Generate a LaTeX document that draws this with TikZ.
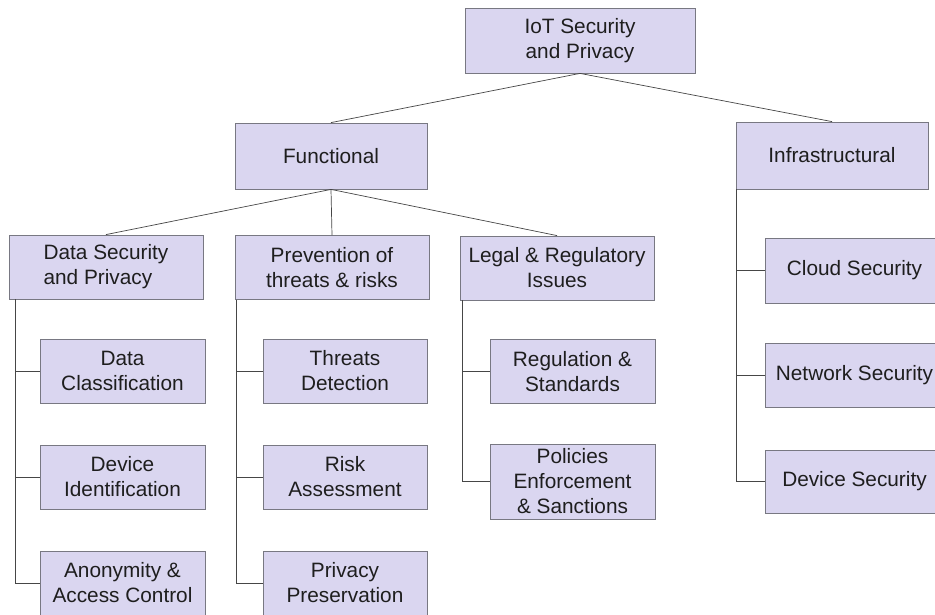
\documentclass[tikz,border=0pt]{standalone}
\usepackage{fontspec}
\setmainfont{Liberation Sans}
\usetikzlibrary{calc}
\definecolor{boxfill}{RGB}{218,214,240}
\definecolor{boxline}{RGB}{120,120,130}
\definecolor{txt}{RGB}{30,30,30}
\definecolor{conn}{RGB}{70,70,70}
\tikzset{
  box/.style={rectangle, fill=boxfill, draw=boxline, line width=0.8pt, inner sep=0pt,
    align=center, text=txt, font=\fontsize{20.8}{25}\selectfont},
  l1/.style={box, minimum width=192pt, minimum height=66pt},
  l2/.style={box, minimum width=194pt, minimum height=64pt},
  l3/.style={box, minimum width=165pt, minimum height=64pt},
  l4/.style={box, minimum width=179pt, minimum height=65pt},
  link/.style={draw=conn, line width=0.7pt}
}
\begin{document}
\begin{tikzpicture}[x=1pt,y=-1pt]
\useasboundingbox (0,0) rectangle (935,615);
\clip (0,0) rectangle (935,615);
\fill[white] (0,0) rectangle (935,615);

\node[box, minimum width=230pt, minimum height=65pt] (root) at (580,40.5) {IoT Security\\and Privacy};
\node[l1] (func) at (331,156) {Functional};
\node[l1, minimum height=67pt] (infra) at (832,155.5) {Infrastructural};

\node[l2, align=left] (dsp) at (106,267) {Data Security\\and Privacy};
\node[l2] (prev) at (332,267.5) {Prevention of\\threats \& risks};
\node[l2] (legal) at (557,268) {Legal \& Regulatory\\Issues};

\node[l3] (dc) at (122.5,371) {Data\\Classification};
\node[l3] (di) at (122.5,477) {Device\\Identification};
\node[l3] (anon) at (122.5,583) {Anonymity \&\\Access Control};

\node[l3, minimum width=164pt] (td) at (345,371) {Threats\\Detection};
\node[l3, minimum width=164pt] (ra) at (345,477) {Risk\\Assessment};
\node[l3, minimum width=164pt] (pp) at (345,583) {Privacy\\Preservation};

\node[l3] (rs) at (572.5,371.5) {Regulation \&\\Standards};
\node[l3, minimum height=75pt] (pe) at (572.5,481.5) {Policies\\Enforcement\\\& Sanctions};

\node[l4] (cloud) at (854.5,270.5) {Cloud Security};
\node[l4, minimum height=64pt] (net) at (854.5,375) {Network Security};
\node[l4, minimum height=63pt] (dev) at (854.5,481.5) {Device Security};

\draw[link] (root.south) -- (func.north);
\draw[link] (root.south) -- (infra.north);
\draw[link] (func.south) -- (dsp.north);
\draw[link] (func.south) -- (prev.north);
\draw[link] (func.south) -- (legal.north);

\draw[link] ([xshift=7]dsp.south west) |- (dc.west);
\draw[link] ([xshift=7]dsp.south west) |- (di.west);
\draw[link] ([xshift=7]dsp.south west) |- (anon.west);

\draw[link] ([xshift=1.5]prev.south west) |- (td.west);
\draw[link] ([xshift=1.5]prev.south west) |- (ra.west);
\draw[link] ([xshift=1.5]prev.south west) |- (pp.west);

\draw[link] ([xshift=3]legal.south west) |- (rs.west);
\draw[link] ([xshift=3]legal.south west) |- (pe.west);

\draw[link] ([xshift=1]infra.south west) |- (cloud.west);
\draw[link] ([xshift=1]infra.south west) |- (net.west);
\draw[link] ([xshift=1]infra.south west) |- (dev.west);
\end{tikzpicture}
\end{document}
